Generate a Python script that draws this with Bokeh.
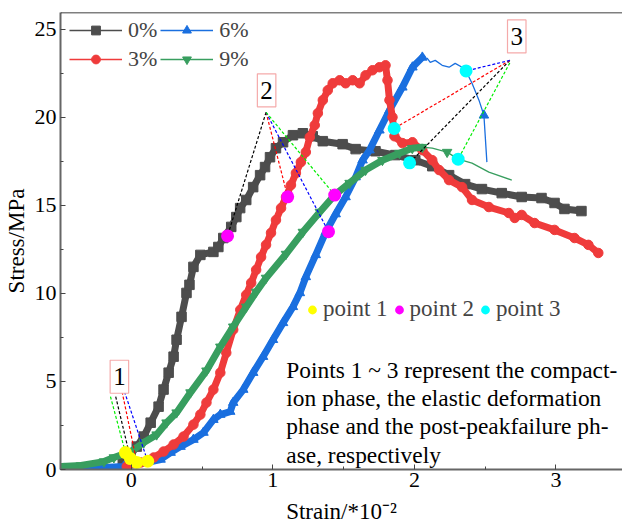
from bokeh.plotting import figure
from bokeh.models import (Legend, LegendItem, Label, FixedTicker, Span, Range1d)
from bokeh.embed import file_html
from bokeh.resources import INLINE

# ---------------- data ----------------
series_names = ["0%", "3%", "6%", "9%"]

x_0 = [-0.060, -0.004, 0.039, 0.088, 0.137, 0.193, 0.228, 0.264, 0.299, 0.320, 0.355, 0.390,
       0.411, 0.439, 0.488, 0.580, 0.615, 0.650, 0.706, 0.742, 0.769, 0.812, 0.861, 0.910,
       0.945, 0.980, 1.022, 1.072, 1.142, 1.212, 1.282, 1.353, 1.493, 1.585, 1.725, 1.866,
       2.006, 2.126, 2.245, 2.358, 2.477, 2.617, 2.758, 2.898, 2.990, 3.060, 3.180]
y_0 = [0.38, 0.85, 1.30, 1.87, 2.66, 3.57, 4.54, 5.50, 6.41, 7.37, 8.67, 10.03,
       10.49, 11.51, 12.19, 12.36, 12.64, 13.15, 13.78, 14.34, 14.85, 15.31, 16.04, 16.72,
       17.18, 17.74, 18.25, 18.59, 18.99, 19.10, 18.93, 18.65, 18.48, 18.20, 18.08, 17.86,
       17.57, 17.23, 16.72, 16.21, 15.93, 15.70, 15.48, 15.42, 15.14, 14.80, 14.68]

x_3p = [-0.032, 0.067, 0.158, 0.228, 0.299, 0.369, 0.439, 0.488, 0.531, 0.580, 0.629, 0.671,
        0.720, 0.770, 0.812, 0.847, 0.882, 0.917, 0.952, 0.987, 1.022, 1.058, 1.093, 1.128,
        1.163, 1.198, 1.233, 1.261, 1.296, 1.318, 1.353, 1.388, 1.423, 1.472, 1.514, 1.564,
        1.613, 1.655, 1.704, 1.753, 1.796, 1.810, 1.824, 1.845, 1.859, 1.915, 1.986, 2.056,
        2.126, 2.175, 2.245, 2.337, 2.407, 2.526, 2.667, 2.709, 2.758, 2.849, 2.990, 3.131,
        3.229, 3.299]
y_3p = [0.17, 0.40, 0.68, 1.02, 1.42, 1.87, 2.55, 3.12, 3.80, 4.54, 5.50, 6.63,
        7.94, 9.07, 9.92, 10.60, 11.34, 12.07, 12.76, 13.44, 14.17, 14.85, 15.48, 16.16,
        16.84, 17.46, 18.03, 18.88, 19.56, 20.24, 20.98, 21.54, 21.94, 22.11, 21.94, 22.11,
        21.94, 22.39, 22.68, 22.85, 22.96, 22.11, 20.98, 20.01, 18.93, 18.54, 18.59, 18.14,
        17.57, 17.01, 16.44, 16.04, 15.31, 14.91, 14.57, 14.29, 14.46, 14.00, 13.61, 13.15,
        12.76, 12.30]

x_6p = [-0.474, -0.334, -0.193, -0.053, 0.109, 0.207, 0.278, 0.348, 0.439, 0.510, 0.580, 0.629,
        0.699, 0.720, 0.791, 0.861, 0.931, 1.001, 1.072, 1.142, 1.191, 1.233, 1.303, 1.374,
        1.444, 1.514, 1.585, 1.634, 1.683, 1.753, 1.824, 1.915, 1.986, 2.056,
        2.091, 2.112, 2.147, 2.196, 2.245, 2.288, 2.337, 2.365, 2.407, 2.456, 2.491, 2.512]
y_6p = [0.06, 0.06, 0.11, 0.17, 0.40, 0.57, 0.96, 1.30, 1.70, 2.10, 2.83, 3.12,
        3.29, 3.80, 4.54, 5.50, 6.41, 7.37, 8.33, 9.24, 10.03, 10.94, 12.19, 13.49,
        14.51, 15.48, 16.61, 17.57, 18.14, 19.27, 20.41, 21.71, 22.85, 23.41,
        23.36, 23.13, 23.24, 22.96, 22.85, 23.07, 22.85, 22.62, 21.94, 20.98, 20.12, 17.46]

x_9p = [-0.495, -0.355, -0.193, -0.123, -0.004, 0.088, 0.179, 0.249, 0.320, 0.418, 0.531, 0.629,
        0.720, 0.812, 0.882, 0.952, 1.093, 1.212, 1.332, 1.437, 1.542, 1.655, 1.774, 1.894,
        1.985, 2.056, 2.126, 2.231, 2.309, 2.407, 2.526, 2.688]
y_9p = [0.17, 0.23, 0.45, 0.68, 1.02, 1.53, 1.98, 2.66, 3.23, 4.37, 5.61, 6.97,
        8.11, 9.24, 10.09, 10.88, 12.24, 13.49, 14.63, 15.59, 16.27, 17.01, 17.57, 17.97,
        18.25, 18.31, 18.25, 18.03, 17.63, 17.40, 16.89, 16.44]

# point 1 (compaction), point 2 (elastic), point 3 (post-peak), order 0%, 3%, 6%, 9%
p1_x = [-0.006, 0.039, 0.116, -0.041]
p1_y = [0.62, 0.40, 0.47, 0.96]
p1_from_x = [-0.110, -0.065, -0.048, -0.147]
p1_from_y = [4.14, 4.42, 4.42, 4.14]

p2_x = [0.680, 1.105, 1.393, 1.437]
p2_y = [13.27, 15.49, 13.51, 15.59]
p2_from_x = [0.952, 0.952, 0.952, 0.952]
p2_from_y = [20.29, 20.29, 20.29, 20.29]

p3_x = [1.966, 1.857, 2.365, 2.309]
p3_y = [17.42, 19.37, 22.64, 17.63]
p3_from_x = [2.674, 2.674, 2.674, 2.674]
p3_from_y = [23.24, 23.24, 23.24, 23.10]

x_ticks = [0, 1, 2, 3]
x_minor = [-0.5, 0.5, 1.5, 2.5, 3.5]
y_ticks = [0, 5, 10, 15, 20, 25]
y_minor = [2.5, 7.5, 12.5, 17.5, 22.5]

x_title = "Strain/*10\u207b\u00b2"
y_title = "Stress/MPa"
note_lines = ["Points 1 ~ 3 represent the compact-",
              "ion phase, the elastic deformation",
              "phase and the post-peakfailure ph-",
              "ase, respectively"]

# ---------------- styling ----------------
FONT = "Liberation Serif"
colors = ["#4d4d4d", "#ef3b3b", "#1a6fdf", "#389e5f"]
dash_colors = ["#000000", "#ff0000", "#0000ff", "#00ee00"]
markers = ["square", "circle", "triangle", "inverted_triangle"]
xs = [x_0, x_3p, x_6p, x_9p]
ys = [y_0, y_3p, y_6p, y_9p]
band_len = [len(x_0), len(x_3p), 34, 26]   # dense (thick) part of each curve
tail_marks = [[], [], [44], [27]]          # isolated markers on the thin tails
draw_order = [0, 2, 1, 3]

p = figure(width=622, height=526, x_range=Range1d(-0.5, 3.47), y_range=Range1d(0, 25.96),
           output_backend="svg", toolbar_location=None,
           min_border_left=57, min_border_right=0, min_border_top=12, min_border_bottom=56)
p.xgrid.visible = False
p.ygrid.visible = False
p.outline_line_color = None
p.background_fill_color = "white"
p.border_fill_color = "white"

p.xaxis.ticker = FixedTicker(ticks=x_ticks, minor_ticks=x_minor)
p.yaxis.ticker = FixedTicker(ticks=y_ticks, minor_ticks=y_minor)
p.xaxis.axis_label = x_title
p.yaxis.axis_label = y_title
for ax in (p.xaxis[0], p.yaxis[0]):
    ax.axis_line_color = "#666666"
    ax.axis_line_width = 2
    ax.major_tick_line_color = "#444444"
    ax.minor_tick_line_color = "#444444"
    ax.major_tick_in = 5
    ax.major_tick_out = 0
    ax.minor_tick_in = 3
    ax.minor_tick_out = 0
    ax.major_label_text_font = FONT
    ax.major_label_text_font_size = "22px"
    ax.major_label_text_color = "black"
    ax.axis_label_text_font = FONT
    ax.axis_label_text_font_size = "23px"
    ax.axis_label_text_font_style = "normal"
    ax.axis_label_text_color = "black"
p.xaxis.major_label_standoff = 3
p.xaxis.axis_label_standoff = 9
p.yaxis.major_label_standoff = 4
p.yaxis.axis_label_standoff = 3

p.add_layout(Span(location=25.96, dimension="width", line_color="black", line_width=1.5))

legend_parts = {}
for i in draw_order:
    c = colors[i]
    thin = p.line(xs[i], ys[i], line_color=c, line_width=1.3)
    n = band_len[i]
    p.line(xs[i][:n], ys[i][:n], line_color=c, line_width=7, line_join="round", line_cap="round")
    mk = p.scatter(xs[i][:n], ys[i][:n], marker=markers[i], size=9.5, fill_color=c, line_color=c)
    if tail_marks[i]:
        p.scatter([xs[i][k] for k in tail_marks[i]], [ys[i][k] for k in tail_marks[i]],
                  marker=markers[i], size=9.5, fill_color=c, line_color=c)
    legend_parts[i] = [thin, mk]

# guide lines to the phase points
for fx, fy, tx, ty in ((p1_from_x, p1_from_y, p1_x, p1_y),
                       (p2_from_x, p2_from_y, p2_x, p2_y),
                       (p3_from_x, p3_from_y, p3_x, p3_y)):
    p.segment(x0=fx, y0=fy, x1=tx, y1=ty, line_color=dash_colors, line_dash="3 2", line_width=1.2)

r_p1 = p.scatter(p1_x, p1_y, size=13, fill_color="#ffff00", line_color=None)
r_p2 = p.scatter(p2_x, p2_y, size=13, fill_color="#ff00ff", line_color=None)
r_p3 = p.scatter(p3_x, p3_y, size=13, fill_color="#00ffff", line_color=None)

# numbered boxes
for txt, bx, by in (("1", -0.084, 5.27), ("2", 0.956, 21.54), ("3", 2.723, 24.60)):
    p.add_layout(Label(x=bx, y=by, text=txt, text_align="center", text_baseline="middle",
                       text_font=FONT, text_font_size="25px", text_color="black",
                       border_line_color="#f5aaaa", border_line_width=1.2,
                       background_fill_color="white",
                       padding=dict(left=3, right=3, top=8, bottom=8)))

# note text
note_y = [5.67, 4.08, 2.45, 0.85]
for t, ty in zip(note_lines, note_y):
    p.add_layout(Label(x=1.095, y=ty, text=t, text_align="left", text_baseline="alphabetic",
                       text_font=FONT, text_font_size="23.4px", text_color="black"))

# series legend
leg = Legend(items=[LegendItem(label=series_names[i], renderers=legend_parts[i]) for i in range(4)],
             location=(9, 397), orientation="vertical", nrows=2,
             glyph_width=53, glyph_height=22, label_standoff=6, spacing=3,
             padding=0, margin=0, border_line_color=None, background_fill_alpha=0,
             label_text_font=FONT, label_text_font_size="22px")
p.add_layout(leg)

# point legend
leg2 = Legend(items=[LegendItem(label="point 1", renderers=[r_p1]),
                     LegendItem(label="point 2", renderers=[r_p2]),
                     LegendItem(label="point 3", renderers=[r_p3])],
              location=(241, 147), orientation="horizontal",
              glyph_width=22, glyph_height=25, label_standoff=0, spacing=0,
              padding=0, margin=0, border_line_color=None, background_fill_alpha=0,
              label_text_font=FONT, label_text_font_size="23px")
p.add_layout(leg2)

open("out.html", "w").write(file_html(p, INLINE))
